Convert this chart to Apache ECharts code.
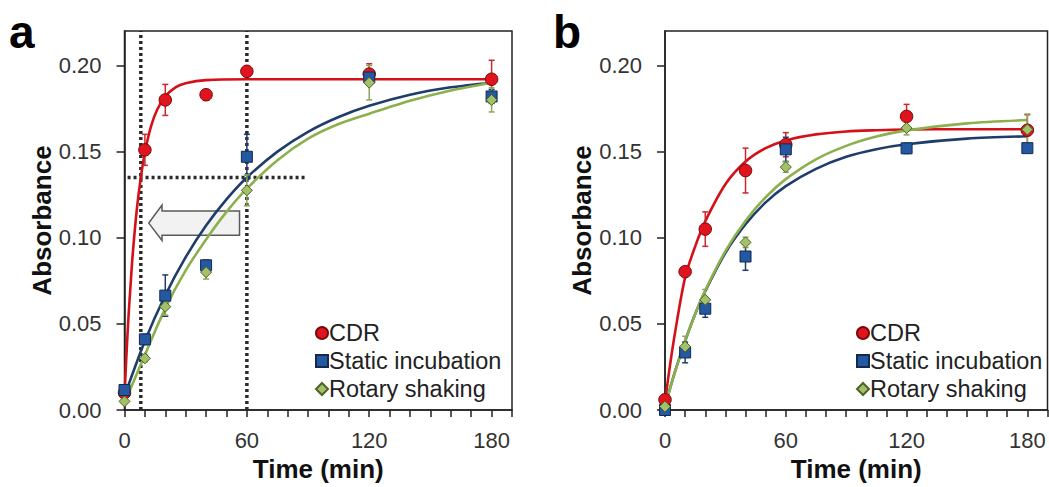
<!DOCTYPE html>
<html>
<head>
<meta charset="utf-8">
<script src="https://cdn.jsdelivr.net/npm/echarts@6/dist/echarts.min.js"></script>
<style>html,body{margin:0;padding:0;background:#fff;}#c{width:1049px;height:487px;}</style>
</head>
<body>
<div id="c"></div>
<script>
// ---------- data ----------
const times = [0, 10, 20, 40, 60, 120, 180];
const seriesNames = ['CDR', 'Static incubation', 'Rotary shaking'];
const xTickLabels = [0, 60, 120, 180];
const xMinorTicks = [0, 10, 20, 30, 40, 50, 60, 70, 80, 90, 100, 110, 120, 130, 140, 150, 160, 170, 180, 190];
const yTickLabels = [0, 0.05, 0.10, 0.15, 0.20];

// panel a measurements
const aCDR = [0.010, 0.151, 0.180, 0.183, 0.1966, 0.195, 0.192];
const aCDRErr = [0.002, 0.009, 0.009, 0.003, 0.002, 0.006, 0.011];
const aStatic = [0.0116, 0.041, 0.0664, 0.084, 0.147, 0.193, 0.182];
const aStaticErr = [0.001, 0.003, 0.012, 0.003, 0.013, 0.004, 0.004];
const aRotary = [0.005, 0.030, 0.060, 0.080, 0.1275, 0.190, 0.180];
const aRotaryErr = [0.001, 0.002, 0.005, 0.004, 0.009, 0.010, 0.007];

// panel a fitted curves
const aCDRFitT = [0, 1, 2, 3, 4, 6, 8, 10, 13, 16, 20, 25, 30, 40, 60, 90, 120, 150, 180];
const aCDRFit = [0.008, 0.033, 0.055, 0.073, 0.090, 0.116, 0.135, 0.1495, 0.1646, 0.1743, 0.182, 0.1873, 0.1897, 0.1915, 0.192, 0.192, 0.192, 0.192, 0.192];
const aFitT = [0, 10, 20, 30, 40, 50, 60, 75, 90, 105, 120, 140, 160, 180];
const aStaticFit = [0.008, 0.040, 0.0666, 0.0887, 0.1071, 0.1223, 0.135, 0.150, 0.1615, 0.1701, 0.1766, 0.183, 0.1873, 0.190];
const aRotaryFit = [0.004, 0.032, 0.059, 0.081, 0.099, 0.115, 0.1285, 0.145, 0.1575, 0.166, 0.172, 0.1795, 0.1855, 0.190];

// panel a annotations (data units)
const aGuideX = [8, 60];
const aGuideY = 0.135;
const aGuideYFrom = 1.5;
const aGuideYTo = 88.5;
const aArrow = [[56.4, 0.1155], [18.4, 0.1155], [18.4, 0.1190], [11.9, 0.1085], [18.4, 0.0984], [18.4, 0.1015], [56.4, 0.1015]];

// panel b measurements
const bCDR = [0.006, 0.0803, 0.105, 0.139, 0.154, 0.1704, 0.1624];
const bCDRErr = [0.001, 0.002, 0.010, 0.013, 0.007, 0.007, 0.009];
const bStatic = [0.000, 0.0334, 0.0588, 0.0891, 0.1513, 0.1519, 0.152];
const bStaticErr = [0.001, 0.006, 0.005, 0.008, 0.007, 0.003, 0.002];
const bRotary = [0.002, 0.0368, 0.064, 0.0973, 0.141, 0.1637, 0.1628];
const bRotaryErr = [0.001, 0.006, 0.006, 0.003, 0.003, 0.004, 0.009];

// panel b fitted curves
const bFitT = [0, 2, 5, 10, 15, 20, 30, 40, 50, 60, 75, 90, 105, 120, 150, 180];
const bCDRFit = [0.004, 0.022, 0.045, 0.077, 0.095, 0.1095, 0.131, 0.1442, 0.152, 0.1565, 0.160, 0.1617, 0.1624, 0.1628, 0.163, 0.163];
const bStaticFit = [0.002, 0.0105, 0.0224, 0.040, 0.0557, 0.069, 0.0912, 0.1078, 0.1205, 0.130, 0.140, 0.147, 0.1514, 0.1543, 0.1575, 0.1589];
const bRotaryFit = [0.002, 0.0104, 0.0222, 0.040, 0.0557, 0.0695, 0.0922, 0.1098, 0.1235, 0.134, 0.1455, 0.1533, 0.1587, 0.1623, 0.1664, 0.1683];

// ---------- styles ----------
const FONT = 'Liberation Sans, Arial, Helvetica, sans-serif';
const sty = {
  CDR: {symbol: 'circle', size: 12.5, fill: '#e0141e', border: '#7a0a0a', line: '#d41118', err: '#c8282e'},
  'Static incubation': {symbol: 'rect', size: 11, fill: '#2458a0', border: '#132a50', line: '#1f3d6b', err: '#1f3d6b'},
  'Rotary shaking': {symbol: 'diamond', size: 11, fill: '#a3c167', border: '#4f6228', line: '#8db04e', err: '#8aa65a'}
};

const zip = (xs, ys) => xs.map((x, i) => [x, ys[i]]);

function fitLine(name, idx, xs, ys, extra) {
  return Object.assign({
    type: 'line', name: name + ' fit', xAxisIndex: idx, yAxisIndex: idx,
    data: zip(xs, ys), showSymbol: false, symbol: 'none', smooth: 0.3,
    lineStyle: {color: sty[name].line, width: 2.6}, silent: true, z: 3, animation: false
  }, extra || {});
}
function scatter(name, idx, vals) {
  const s = sty[name];
  return {
    type: 'scatter', name: name, xAxisIndex: idx, yAxisIndex: idx,
    data: zip(times, vals), symbol: s.symbol, symbolSize: s.size,
    itemStyle: {color: s.fill, borderColor: s.border, borderWidth: 1, opacity: 1},
    z: 5, animation: false
  };
}
function errBars(name, idx, vals, errs) {
  const c = sty[name].err;
  return {
    type: 'custom', xAxisIndex: idx, yAxisIndex: idx, silent: true, z: 4, animation: false,
    encode: {x: 0, y: [1, 2]},
    data: times.map((t, i) => [t, vals[i] - errs[i], vals[i] + errs[i]]),
    renderItem: function (params, api) {
      const lo = api.coord([api.value(0), api.value(1)]);
      const hi = api.coord([api.value(0), api.value(2)]);
      const w = 3;
      const ls = {stroke: c, lineWidth: 1.5};
      return {type: 'group', children: [
        {type: 'line', shape: {x1: lo[0], y1: lo[1], x2: hi[0], y2: hi[1]}, style: ls},
        {type: 'line', shape: {x1: hi[0] - w, y1: hi[1], x2: hi[0] + w, y2: hi[1]}, style: ls},
        {type: 'line', shape: {x1: lo[0] - w, y1: lo[1], x2: lo[0] + w, y2: lo[1]}, style: ls}
      ]};
    }
  };
}

const axisColor = '#222';
function xAxis(idx) {
  return {
    type: 'value', gridIndex: idx, min: 0, max: 190,
    name: 'Time (min)', nameLocation: 'middle', nameGap: 46,
    nameTextStyle: {fontFamily: FONT, fontSize: 26, fontWeight: 'bold', color: '#111'},
    axisLine: {show: true, onZero: false, lineStyle: {color: axisColor, width: 1.5}},
    axisTick: {show: true, inside: false, length: 7, customValues: xMinorTicks, lineStyle: {color: axisColor, width: 1.5}},
    axisLabel: {customValues: xTickLabels, margin: 19, fontFamily: FONT, fontSize: 22, color: '#333'},
    splitLine: {show: false}
  };
}
function yAxis(idx) {
  return {
    type: 'value', gridIndex: idx, min: 0, max: 0.22,
    name: 'Absorbance', nameLocation: 'middle', nameGap: 68, nameRotate: 90,
    nameTextStyle: {fontFamily: FONT, fontSize: 26, fontWeight: 'bold', color: '#111'},
    axisLine: {show: true, lineStyle: {color: axisColor, width: 1.5}},
    axisTick: {show: true, inside: false, length: 8, customValues: yTickLabels, lineStyle: {color: axisColor, width: 1.5}},
    axisLabel: {customValues: yTickLabels, margin: 23, fontFamily: FONT, fontSize: 22, color: '#333',
      formatter: v => v.toFixed(2)},
    splitLine: {show: false}
  };
}
function legend(left) {
  return {
    orient: 'vertical', left: left, top: 321, itemWidth: 12, itemHeight: 12, itemGap: 4,
    padding: 0,
    data: seriesNames.map(n => ({name: n, icon: sty[n].symbol})),
    textStyle: {fontFamily: FONT, fontSize: 23.5, color: '#222', lineHeight: 24, padding: [0, 0, 0, -4]},
    selectedMode: false
  };
}

const guideStyle = {stroke: '#2a2a2a', lineWidth: 3.5, lineDash: [3, 3], lineCap: 'butt', fill: null};

const chart = echarts.init(document.getElementById('c'), null, {renderer: 'svg'});
const option = {
  backgroundColor: '#fff',
  animation: false,
  grid: [
    {left: 124.5, right: 537, top: 31, bottom: 72.7, show: true, borderColor: axisColor, borderWidth: 1.5, backgroundColor: 'transparent'},
    {left: 665, right: 1.5, top: 31, bottom: 72.7, show: true, borderColor: axisColor, borderWidth: 1.5, backgroundColor: 'transparent'}
  ],
  xAxis: [xAxis(0), xAxis(1)],
  yAxis: [yAxis(0), yAxis(1)],
  legend: [legend(315), legend(856)],
  graphic: [
    {type: 'text', left: 9, top: 9, style: {text: 'a', font: 'bold 46px ' + FONT, fill: '#000'}},
    {type: 'text', left: 553, top: 9, style: {text: 'b', font: 'bold 46px ' + FONT, fill: '#000'}}
  ],
  series: [
    // arrow in panel a
    {
      type: 'custom', xAxisIndex: 0, yAxisIndex: 0, silent: true, z: 1, animation: false,
      encode: {x: 0, y: 1}, data: [aArrow[0]],
      renderItem: function (params, api) {
        return {type: 'polygon', shape: {points: aArrow.map(p => api.coord(p))},
          style: {fill: '#f2f2f2', stroke: '#5a5a5a', lineWidth: 1.5}};
      }
    },
    // dotted guide lines in panel a
    {
      type: 'custom', xAxisIndex: 0, yAxisIndex: 0, silent: true, z: 2, animation: false,
      encode: {x: 0, y: 1}, data: [[aGuideYFrom, aGuideY]],
      renderItem: function (params, api) {
        const yTop = 0.22, yBot = 0;
        const kids = aGuideX.map(x => {
          const p1 = api.coord([x, yBot]), p2 = api.coord([x, yTop]);
          return {type: 'line', shape: {x1: p1[0], y1: p1[1], x2: p2[0], y2: p2[1]}, style: guideStyle};
        });
        const h1 = api.coord([aGuideYFrom, aGuideY]), h2 = api.coord([aGuideYTo, aGuideY]);
        kids.push({type: 'line', shape: {x1: h1[0], y1: h1[1], x2: h2[0], y2: h2[1]}, style: guideStyle});
        return {type: 'group', children: kids};
      }
    },
    fitLine('CDR', 0, aCDRFitT, aCDRFit),
    fitLine('Static incubation', 0, aFitT, aStaticFit),
    fitLine('Rotary shaking', 0, aFitT, aRotaryFit),
    errBars('CDR', 0, aCDR, aCDRErr),
    errBars('Static incubation', 0, aStatic, aStaticErr),
    errBars('Rotary shaking', 0, aRotary, aRotaryErr),
    scatter('CDR', 0, aCDR),
    scatter('Static incubation', 0, aStatic),
    scatter('Rotary shaking', 0, aRotary),

    fitLine('CDR', 1, bFitT, bCDRFit),
    fitLine('Static incubation', 1, bFitT, bStaticFit),
    fitLine('Rotary shaking', 1, bFitT, bRotaryFit),
    errBars('CDR', 1, bCDR, bCDRErr),
    errBars('Static incubation', 1, bStatic, bStaticErr),
    errBars('Rotary shaking', 1, bRotary, bRotaryErr),
    scatter('CDR', 1, bCDR),
    scatter('Static incubation', 1, bStatic),
    scatter('Rotary shaking', 1, bRotary)
  ]
};
chart.setOption(option);
</script>
</body>
</html>
